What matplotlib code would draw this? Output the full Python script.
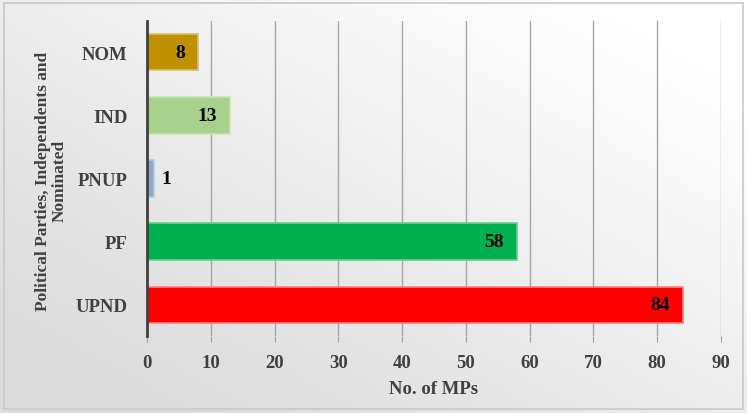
import numpy as np
import matplotlib.pyplot as plt

parties = ['UPND', 'PF', 'PNUP', 'IND', 'NOM']
mps = [84, 58, 1, 13, 8]
colors = ['#FF0000', '#00B050', '#8EA9C8', '#A9D18E', '#BF9000']
edges = ['#FF8080', '#66D090', '#B8C8DC', '#C8E4B4', '#D8C070']

plt.rcParams['font.family'] = ['Liberation Serif', 'DejaVu Serif']
plt.rcParams['font.weight'] = 'bold'

fig = plt.figure(figsize=(7.47, 4.14), dpi=100)

# gradient background (white top-right -> grey bottom-left)
bg = fig.add_axes([0, 0, 1, 1])
yy, xx = np.mgrid[0:1:200j, 0:1:200j]
g = 0.86 + 0.14 * np.clip((xx + (1 - yy)) / 2 * 1.3 - 0.15, 0, 1)
bg.imshow(np.dstack([g, g, g]), extent=[0, 1, 0, 1], aspect='auto', origin='upper')
bg.add_patch(plt.Rectangle((0.006, 0.01), 0.988, 0.98, fill=False,
                           edgecolor='#C8C8C8', lw=1.2))
bg.set_xlim(0, 1)
bg.set_ylim(0, 1)
bg.axis('off')

ax = fig.add_axes([0.197, 0.185, 0.768, 0.763])
ax.patch.set_alpha(0)
y = np.arange(len(parties))
bars = ax.barh(y, mps, height=0.58, color=colors, edgecolor=edges, linewidth=1.2, zorder=3)

for b, v in zip(bars, mps):
    cy = b.get_y() + b.get_height() / 2
    if v >= 5:
        ax.text(v - 2.0, cy, str(v), ha='right', va='center', fontsize=14,
                fontweight='bold', color='black', zorder=4)
    else:
        ax.text(v + 1.3, cy, str(v), ha='left', va='center', fontsize=14,
                fontweight='bold', color='black', zorder=4)

ax.set_xlim(0, 90)
ax.set_ylim(-0.5, len(parties) - 0.5)
ax.set_xticks(np.arange(0, 91, 10))
ax.set_yticks(y)
ax.set_yticklabels(parties)
ax.tick_params(axis='x', length=4, color='#A0A0A0', labelsize=13.5, labelcolor='#404040', pad=9)
ax.tick_params(axis='y', length=0, labelsize=13.5, labelcolor='#404040', pad=14)
ax.grid(axis='x', color='#A6A6A6', lw=1.0, zorder=0)
for s in ['top', 'right', 'bottom']:
    ax.spines[s].set_visible(False)
ax.spines['left'].set_color('#404040')
ax.spines['left'].set_linewidth(2)
ax.spines['left'].set_zorder(5)

ax.set_xlabel('No. of MPs', fontsize=13.5, fontweight='bold', color='#404040', labelpad=6)
fig.text(0.069, 0.563, 'Political Parties, Independents and\nNominated', rotation=90,
         ha='center', va='center', fontsize=12.5, fontweight='bold', color='#404040',
         multialignment='center', linespacing=1.05)

fig.savefig('out.png', dpi=100)
